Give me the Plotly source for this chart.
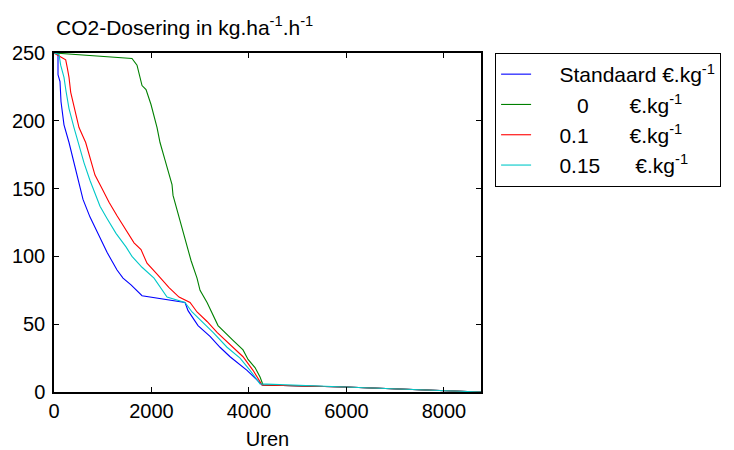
import plotly.graph_objects as go

# --- DATOS ---
UREN_STANDAARD = [0, 82, 82, 123, 144, 205, 308, 410, 534, 595, 739, 903, 1088, 1293, 1416,
                  1580, 1806, 2688, 2750, 2955, 3201, 3406, 3612, 3960, 4268, 5971, 7982, 8760]
DOS_STANDAARD = [250, 250, 234, 229, 214, 197, 184, 169, 151, 142, 129, 117, 103, 90, 84,
                 79, 71, 66, 60, 49, 41, 33, 26, 16, 5.2, 3.7, 0.8, 0]

UREN_0 = [0, 1600, 1703, 1806, 1888, 1990, 2114, 2175, 2278, 2421, 2442, 2524, 2647, 2709,
          2811, 2934, 2996, 3140, 3365, 3673, 3878, 3981, 4124, 4227, 4289, 5971, 7982, 8760]
DOS_0 = [250, 246, 241, 226, 223, 212, 195, 184, 171, 153, 145, 134, 119, 110,
         97, 84, 75, 66, 49, 38, 31, 24, 18, 11, 5.2, 3.7, 0.8, 0]

UREN_01 = [0, 137, 240, 273, 308, 343, 445, 513, 650, 753, 841, 985, 1129, 1293, 1477, 1642,
           1785, 1908, 2114, 2360, 2565, 2791, 2934, 3140, 3345, 3612, 3878, 4083, 4268,
           5971, 7982, 8760]
DOS_01 = [250, 247, 245, 239, 232, 221, 206, 195, 184, 170, 160, 150, 140, 130, 119, 110,
          105, 95, 87, 77, 70, 66, 59, 52, 44, 35, 26, 16, 5.2,
          3.7, 0.8, 0]

UREN_015 = [0, 103, 137, 205, 246, 308, 410, 513, 616, 739, 841, 944, 1088, 1272, 1477, 1600,
            1806, 2052, 2319, 2688, 2832, 3058, 3263, 3550, 3817, 4022, 4227, 5971, 7982, 8760]
DOS_015 = [250, 249, 241, 232, 222, 209, 195, 182, 169, 156, 147, 137, 128, 117, 107, 100,
           92, 84, 70, 66, 59, 51, 44, 33, 25, 16, 6, 3.7, 0.8, 0]

NBSP = "\u00a0"
SERIES = [
    (NBSP * 4 + "Standaard €.kg<sup>-1</sup>", UREN_STANDAARD, DOS_STANDAARD, "#0000ff"),
    (NBSP * 7 + "0" + NBSP * 7 + "€.kg<sup>-1</sup>", UREN_0, DOS_0, "#008000"),
    (NBSP * 4 + "0.1" + NBSP * 7 + "€.kg<sup>-1</sup>", UREN_01, DOS_01, "#ff0000"),
    (NBSP * 4 + "0.15" + NBSP * 6 + "€.kg<sup>-1</sup>", UREN_015, DOS_015, "#00c8c8"),
]

X_TICKS = [0, 2000, 4000, 6000, 8000]
Y_TICKS = [0, 50, 100, 150, 200, 250]

FUENTE = "Liberation Sans, Arial, sans-serif"

fig = go.Figure()

for nombre, x, y, color in SERIES:
    fig.add_trace(
        go.Scatter(
            x=x, y=y,
            mode="lines",
            name=nombre,
            line=dict(color=color, width=1.1)
        )
    )

# --- EJES ---
ejes = dict(
    ticks="inside",
    ticklen=5,
    tickcolor="black",
    showline=True,
    linecolor="black",
    linewidth=1.5,
    mirror="ticks",
    showgrid=False,
    zeroline=False,
    automargin=False,
    tickfont=dict(size=20, color="black")
)

fig.update_xaxes(
    range=[0, 8760],
    tickvals=X_TICKS,
    title=dict(text="Uren", font=dict(size=20, color="black"), standoff=22),
    **ejes
)

fig.update_yaxes(
    range=[0, 250],
    tickvals=Y_TICKS,
    ticklabelstandoff=3,
    **ejes
)

# --- TITULO ---
fig.add_annotation(
    xref="paper", yref="paper",
    x=0, y=1.035,
    xanchor="left", yanchor="bottom",
    text="CO2-Dosering in kg.ha<sup>-1</sup>.h<sup>-1</sup>",
    showarrow=False,
    font=dict(size=21, color="black")
)

# --- LAYOUT ---
# la página añade 8 px de margen al cuerpo: se descuentan del tamaño
fig.update_layout(
    width=726,
    height=442,
    margin=dict(l=46, r=253, t=45, b=58),
    paper_bgcolor="white",
    plot_bgcolor="white",
    font=dict(family=FUENTE, size=20, color="black"),
    showlegend=True,
    legend=dict(
        x=1.033, y=1,
        xanchor="left", yanchor="top",
        bordercolor="black",
        borderwidth=1,
        bgcolor="white",
        font=dict(size=21, color="black"),
        tracegroupgap=0
    )
)

fig.write_html("out.html")
